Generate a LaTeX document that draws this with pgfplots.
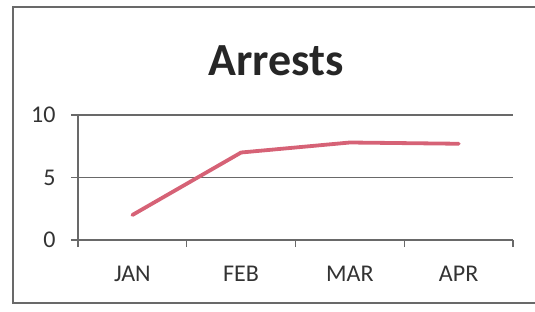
\documentclass[border=0pt]{standalone}
\usepackage{fontspec}
\setmainfont{Carlito}
\usepackage{pgfplots}
\pgfplotsset{compat=1.18}
\definecolor{linecol}{RGB}{214,98,118}
\definecolor{gridcol}{RGB}{105,105,105}
\begin{document}
\begin{tikzpicture}[x=1bp,y=1bp]
\useasboundingbox (0,0) rectangle (535,311);
\begin{scope}
\clip (0,0) rectangle (535,311);
\draw[gridcol, line width=1.2bp] (13,8) rectangle (560,304);
\end{scope}
\node[anchor=base, font=\bfseries\fontsize{46bp}{50bp}\selectfont, text=black!85] at (276,236) {Arrests};
\begin{axis}[
  at={(78bp,71bp)}, anchor=south west,
  scale only axis, width=435bp, height=125bp,
  xmin=-0.5, xmax=3.5, ymin=0, ymax=10,
  xtick={0,1,2,3}, xticklabels={JAN,FEB,MAR,APR},
  minor xtick={-0.5,0.5,1.5,2.5,3.5},
  ytick={0,5,10},
  axis x line=bottom, axis y line=left,
  axis line style={-, gridcol, line width=1.2bp},
  ymajorgrids, grid style={gridcol, line width=1.2bp},
  tick align=outside,
  major tick length=7bp, minor tick length=7bp,
  major x tick style={draw=none},
  minor x tick style={gridcol, line width=1.2bp},
  major y tick style={gridcol, line width=1.2bp},
  /pgf/number format/assume math mode=true,
  tick label style={font=\fontsize{24bp}{28bp}\selectfont, text=black!80},
  yticklabel style={anchor=east, xshift=-12bp},
  xticklabel style={anchor=north, yshift=-16bp},
  clip=false,
]
\addplot[linecol, line width=3.8bp, line join=round, line cap=round] coordinates {
  (0,2) (1,7) (2,7.8) (3,7.7)
};
\end{axis}
\end{tikzpicture}
\end{document}
